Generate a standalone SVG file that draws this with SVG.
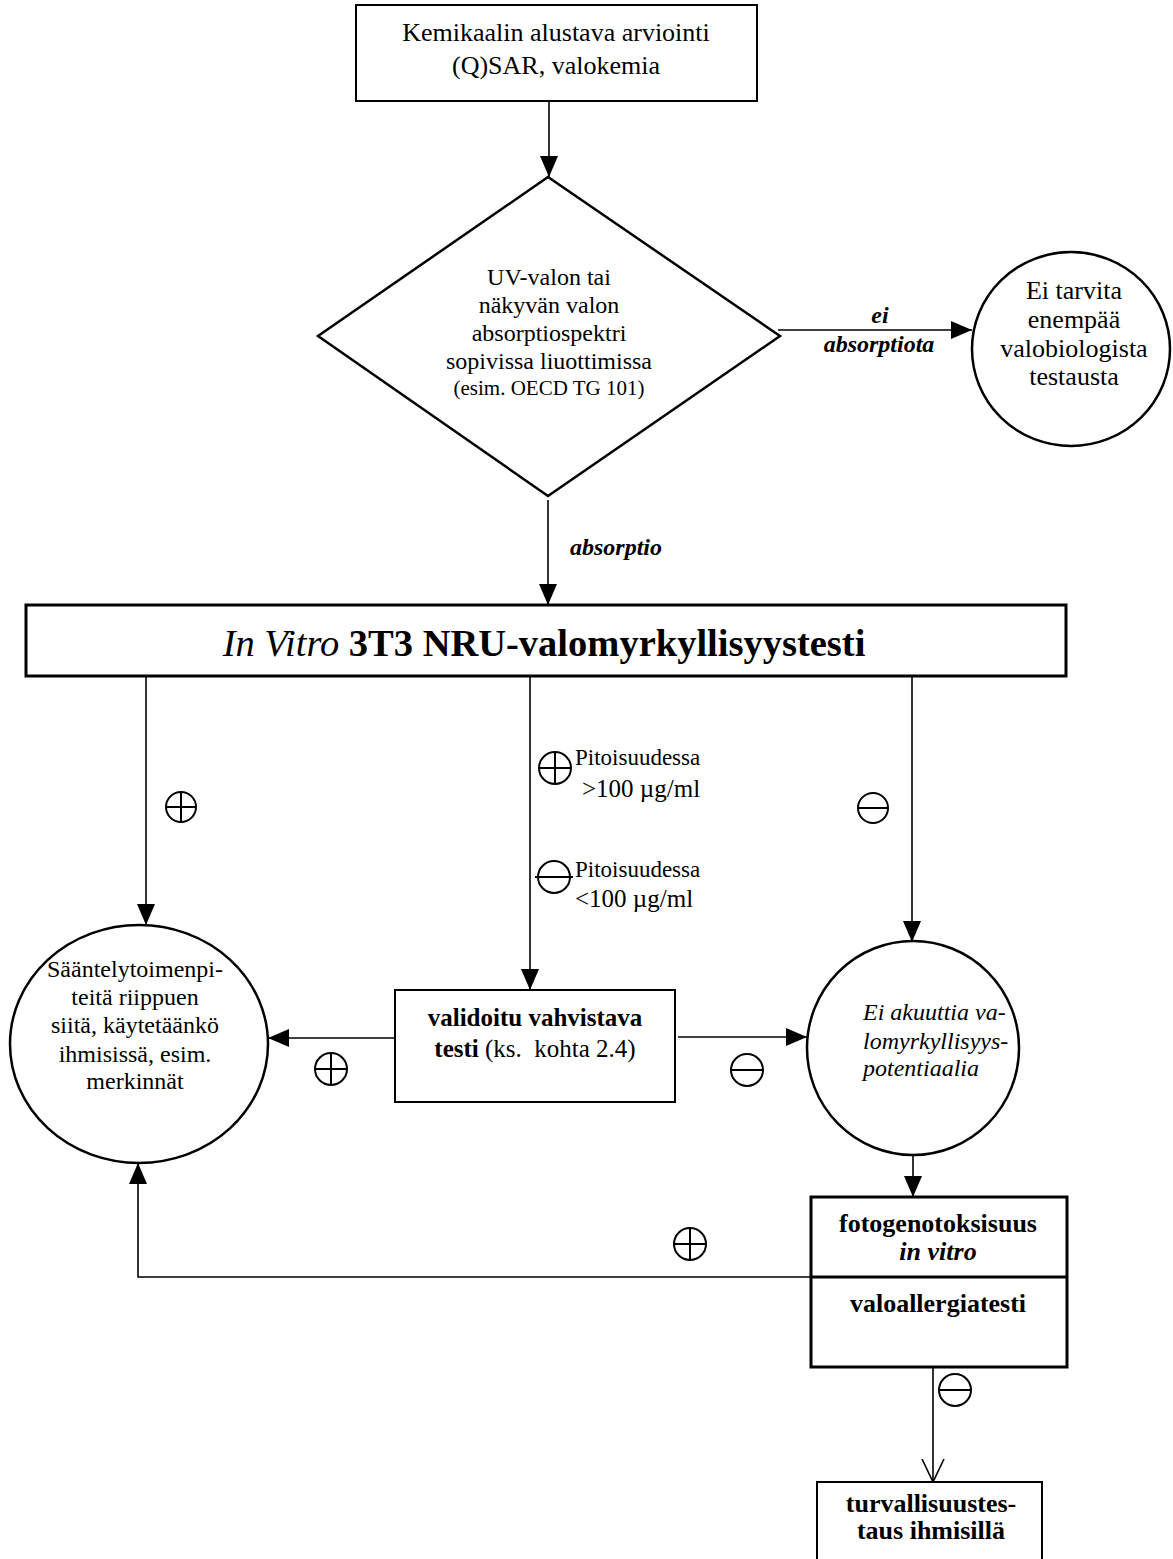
<svg xmlns="http://www.w3.org/2000/svg" width="1173" height="1559" viewBox="0 0 1173 1559">
<style>
text{font-family:"Liberation Serif","Times New Roman",serif;fill:#000}
.c{text-anchor:middle}
.b{font-weight:bold}
.i{font-style:italic}
.box{fill:#fff;stroke:#000;stroke-width:2}
.thick{fill:#fff;stroke:#000;stroke-width:3}
.node{fill:#fff;stroke:#000;stroke-width:2.5}
.con{fill:none;stroke:#000;stroke-width:1.6}
.sym{fill:none;stroke:#000;stroke-width:2}
</style>
<defs>
<marker id="ah" markerUnits="userSpaceOnUse" markerWidth="22" markerHeight="20" refX="21" refY="10" orient="auto">
<path d="M0,1 L21,10 L0,19 z" fill="#000"/>
</marker>
<marker id="open" markerUnits="userSpaceOnUse" markerWidth="24" markerHeight="26" refX="23" refY="12" orient="auto">
<path d="M0,1 L23,12 L0,23" fill="none" stroke="#000" stroke-width="1.6"/>
</marker>
</defs>

<g id="connectors">
<line class="con" x1="549" y1="101" x2="549" y2="177" marker-end="url(#ah)"/>
<line class="con" x1="778" y1="330" x2="972" y2="330" marker-end="url(#ah)"/>
<line class="con" x1="548" y1="500" x2="548" y2="605" marker-end="url(#ah)"/>
<line class="con" x1="146" y1="676" x2="146" y2="925" marker-end="url(#ah)"/>
<line class="con" x1="530" y1="676" x2="530" y2="990" marker-end="url(#ah)"/>
<line class="con" x1="912" y1="676" x2="912" y2="942" marker-end="url(#ah)"/>
<line class="con" x1="395" y1="1038" x2="268" y2="1038" marker-end="url(#ah)"/>
<line class="con" x1="678" y1="1037" x2="807" y2="1037" marker-end="url(#ah)"/>
<line class="con" x1="913" y1="1155" x2="913" y2="1197" marker-end="url(#ah)"/>
<polyline class="con" points="811,1277 138,1277 138,1163" marker-end="url(#ah)"/>
<line class="con" x1="933" y1="1367" x2="933" y2="1482" marker-end="url(#open)"/>
<text class="c b i" x="880" y="323" font-size="24">ei</text>
<text class="c b i" x="879" y="352" font-size="24">absorptiota</text>
<text class="b i" x="570" y="555" font-size="24">absorptio</text>
</g>

<g id="signs">
<g id="plus-left"><circle class="sym" cx="181" cy="807" r="15"/><line class="sym" x1="166" y1="807" x2="196" y2="807"/><line class="sym" x1="181" y1="792" x2="181" y2="822"/></g>
<g id="minus-right"><circle class="sym" cx="873" cy="808" r="15"/><line class="sym" x1="858" y1="808" x2="888" y2="808"/></g>
<g id="plus-mid"><circle class="sym" cx="555" cy="768" r="16" stroke-width="3"/><line class="sym" x1="539" y1="768" x2="571" y2="768" stroke-width="3"/><line class="sym" x1="555" y1="752" x2="555" y2="784" stroke-width="3"/></g>
<text x="575" y="765" font-size="23">Pitoisuudessa</text>
<text x="582" y="797" font-size="25">&gt;100 µg/ml</text>
<g id="minus-mid"><circle class="sym" cx="554" cy="877" r="16" stroke-width="3"/><line class="sym" x1="535" y1="877" x2="573" y2="877" stroke-width="3"/></g>
<text x="575" y="877" font-size="23">Pitoisuudessa</text>
<text x="575" y="907" font-size="25">&lt;100 µg/ml</text>
<g id="plus-low"><circle class="sym" cx="331" cy="1069" r="16"/><line class="sym" x1="315" y1="1069" x2="347" y2="1069"/><line class="sym" x1="331" y1="1053" x2="331" y2="1085"/></g>
<g id="minus-low"><circle class="sym" cx="747" cy="1070" r="16"/><line class="sym" x1="731" y1="1070" x2="763" y2="1070"/></g>
<g id="plus-bottom"><circle class="sym" cx="690" cy="1244" r="16"/><line class="sym" x1="674" y1="1244" x2="706" y2="1244"/><line class="sym" x1="690" y1="1228" x2="690" y2="1260"/></g>
<g id="minus-bottom"><circle class="sym" cx="955" cy="1390" r="16"/><line class="sym" x1="939" y1="1390" x2="971" y2="1390"/></g>
</g>

<g id="n-start">
<rect class="box" x="356" y="5" width="401" height="96"/>
<text class="c" x="556" y="41" font-size="26">Kemikaalin alustava arviointi</text>
<text class="c" x="556" y="74" font-size="26">(Q)SAR, valokemia</text>
</g>

<g id="n-diamond">
<polygon class="node" points="548,177 780,336 548,496 318,336"/>
<text class="c" x="549" y="285" font-size="24">UV-valon tai</text>
<text class="c" x="549" y="313" font-size="24">näkyvän valon</text>
<text class="c" x="549" y="341" font-size="24">absorptiospektri</text>
<text class="c" x="549" y="369" font-size="24">sopivissa liuottimissa</text>
<text class="c" x="549" y="395" font-size="21">(esim. OECD TG 101)</text>
</g>

<g id="n-noabs">
<ellipse class="node" cx="1071" cy="349" rx="99" ry="97"/>
<text class="c" x="1074" y="299" font-size="26">Ei tarvita</text>
<text class="c" x="1074" y="328" font-size="26">enempää</text>
<text class="c" x="1074" y="357" font-size="26">valobiologista</text>
<text class="c" x="1074" y="385" font-size="26">testausta</text>
</g>

<g id="n-invitro">
<rect class="thick" x="26" y="605" width="1040" height="71"/>
<text class="c" x="544" y="656" font-size="38.5"><tspan class="i">In Vitro</tspan><tspan class="b"> 3T3 NRU-valomyrkyllisyystesti</tspan></text>
</g>

<g id="n-regulation">
<ellipse class="node" cx="139" cy="1044" rx="129" ry="119"/>
<text class="c" x="135" y="977" font-size="24">Sääntelytoimenpi-</text>
<text class="c" x="135" y="1005" font-size="24">teitä riippuen</text>
<text class="c" x="135" y="1033" font-size="24">siitä, käytetäänkö</text>
<text class="c" x="135" y="1062" font-size="24">ihmisissä, esim.</text>
<text class="c" x="135" y="1089" font-size="24">merkinnät</text>
</g>

<g id="n-validated">
<rect class="box" x="395" y="990" width="280" height="112"/>
<text class="c b" x="535" y="1026" font-size="25">validoitu vahvistava</text>
<text class="c" x="535" y="1057" font-size="25" xml:space="preserve"><tspan class="b">testi</tspan> (ks.  kohta 2.4)</text>
</g>

<g id="n-noacute">
<ellipse class="node" cx="913" cy="1048" rx="106" ry="107"/>
<text class="i" x="863" y="1020" font-size="24">Ei akuuttia va-</text>
<text class="i" x="863" y="1049" font-size="24">lomyrkyllisyys-</text>
<text class="i" x="863" y="1076" font-size="24">potentiaalia</text>
</g>

<g id="n-photogeno">
<rect class="thick" x="811" y="1197" width="256" height="170"/>
<line x1="811" y1="1277" x2="1067" y2="1277" stroke="#000" stroke-width="3"/>
<text class="c b" x="938" y="1232" font-size="26">fotogenotoksisuus</text>
<text class="c b i" x="938" y="1260" font-size="26">in vitro</text>
<text class="c b" x="938" y="1312" font-size="26">valoallergiatesti</text>
</g>

<g id="n-human">
<rect class="box" x="817" y="1482" width="225" height="82"/>
<text class="c b" x="931" y="1512" font-size="26">turvallisuustes-</text>
<text class="c b" x="931" y="1539" font-size="26">taus ihmisillä</text>
</g>
</svg>
